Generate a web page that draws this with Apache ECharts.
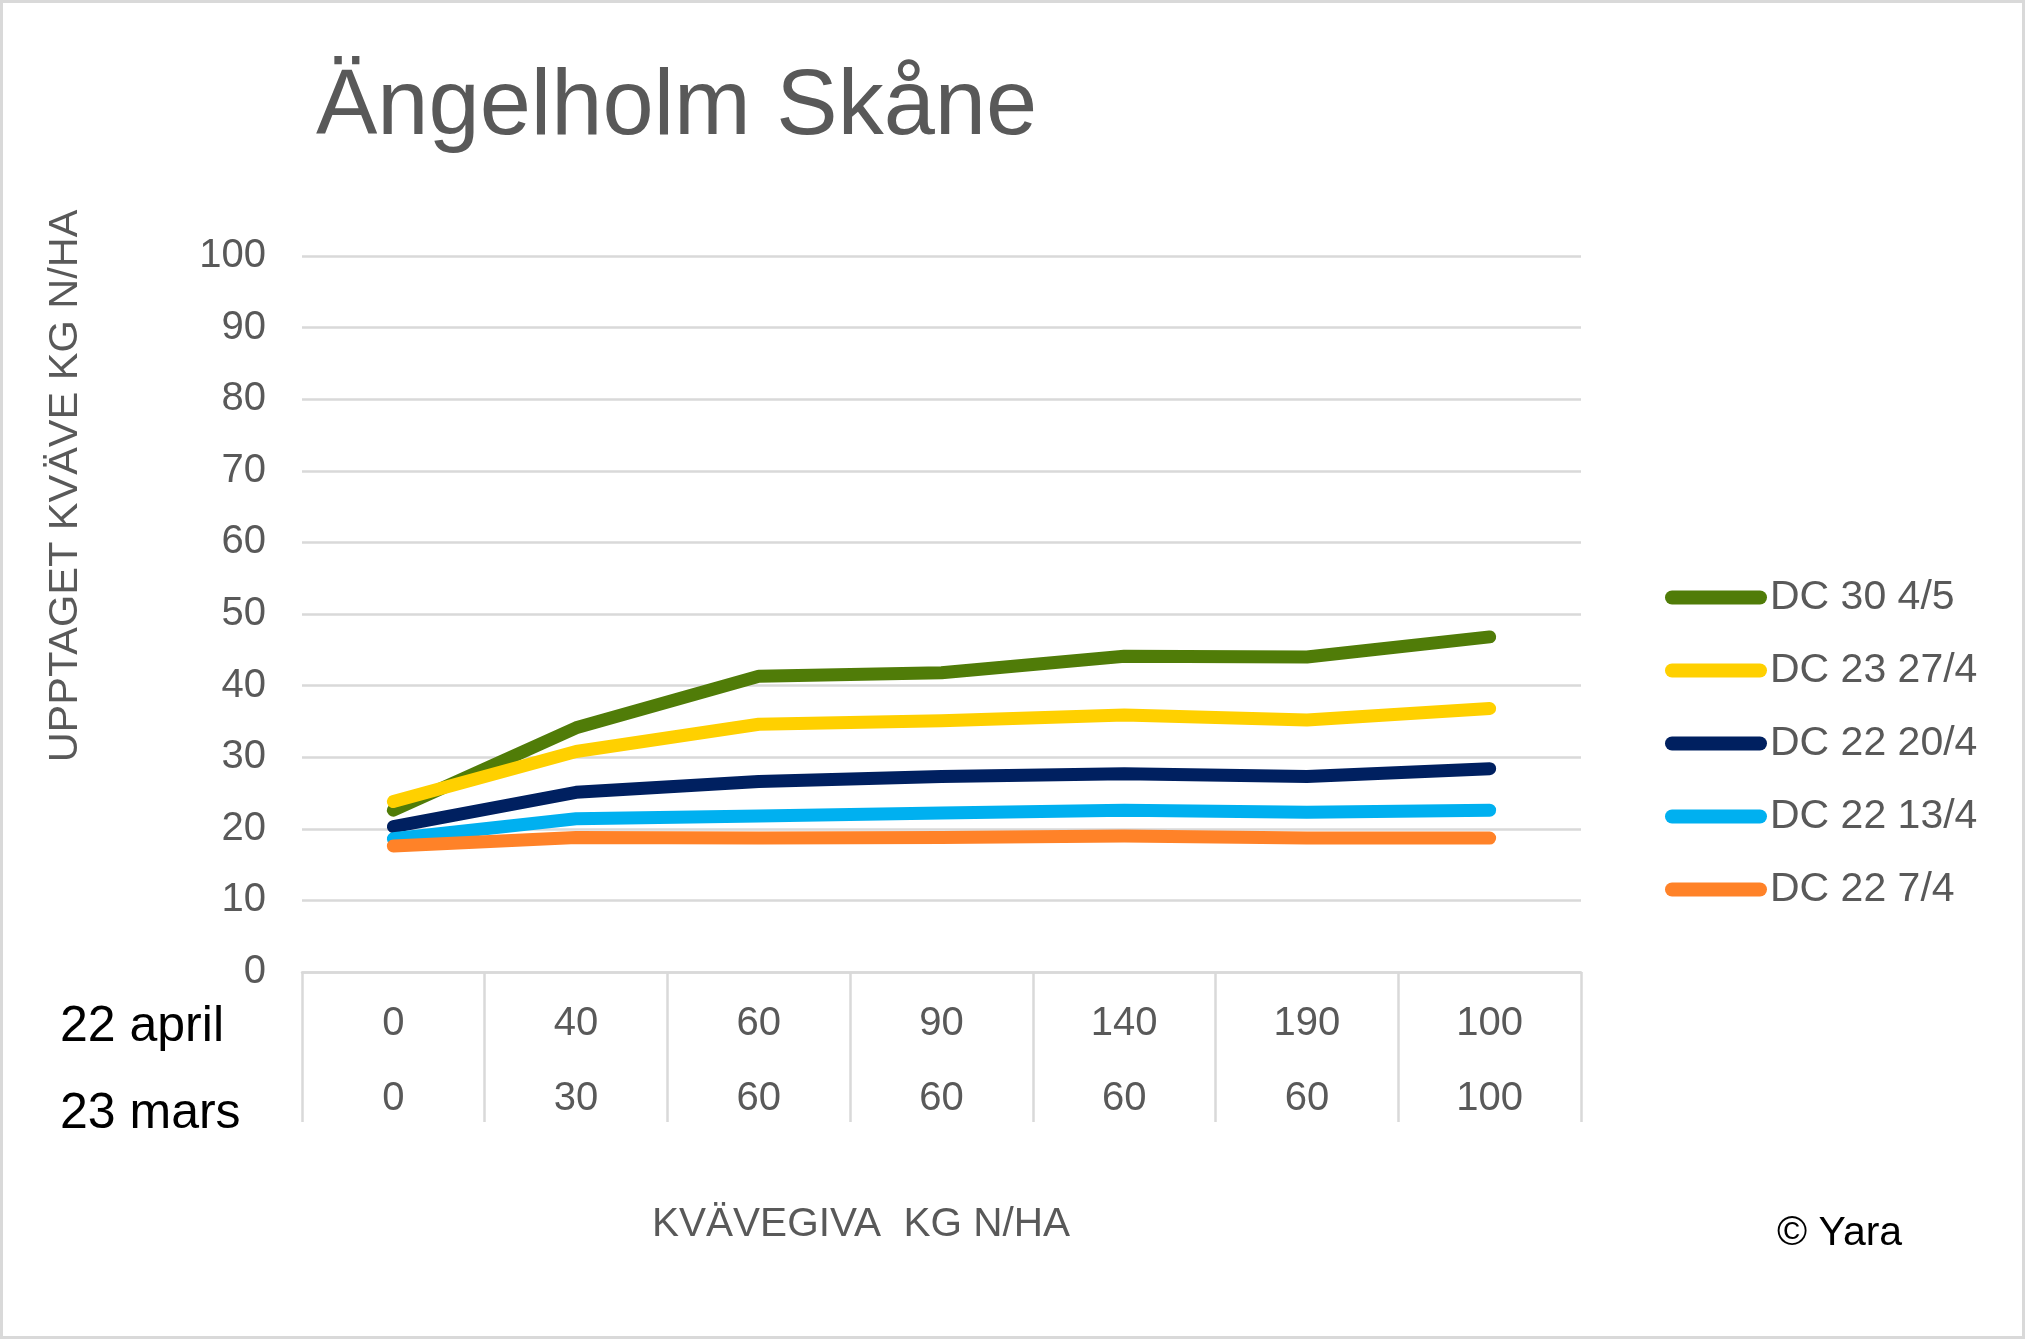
<!DOCTYPE html>
<html>
<head>
<meta charset="utf-8">
<script src="https://cdn.jsdelivr.net/npm/echarts@6/dist/echarts.min.js"></script>
<style>
html,body{margin:0;padding:0;background:#fff;}
#chart{width:2026px;height:1340px;}
</style>
</head>
<body>
<div id="chart"></div>
<script>
// Category rows (x axis): N given 22 april, N given 23 mars
const april = ['0', '40', '60', '90', '140', '190', '100'];
const mars = ['0', '30', '60', '60', '60', '60', '100'];
const rowLabels = ['22 april', '23 mars'];

// Series (uptaken N, kg N/ha)
const seriesNames = ['DC 30 4/5', 'DC 23 27/4', 'DC 22 20/4', 'DC 22 13/4', 'DC 22 7/4'];
const dc30_4_5 = [22.6, 34.1, 41.3, 41.8, 44.1, 44.0, 46.8];
const dc23_27_4 = [23.8, 30.8, 34.6, 35.1, 35.9, 35.2, 36.8];
const dc22_20_4 = [20.3, 25.1, 26.6, 27.3, 27.7, 27.3, 28.4];
const dc22_13_4 = [18.6, 21.4, 21.8, 22.2, 22.6, 22.3, 22.6];
const dc22_7_4 = [17.6, 18.8, 18.7, 18.8, 19.0, 18.7, 18.7];
const seriesColors = ['#507C08', '#FFD000', '#002060', '#00B0F0', '#FF8228'];

const yTicks = { min: 0, max: 100, interval: 10 };

const FONT = '"Liberation Sans", Arial, sans-serif';
const GREY = '#595959';

const categories = april.map((a, i) => a + '\n' + mars[i]);
const values = [dc30_4_5, dc23_27_4, dc22_20_4, dc22_13_4, dc22_7_4];

const chart = echarts.init(document.getElementById('chart'), null, { renderer: 'canvas' });

const option = {
  backgroundColor: '#ffffff',
  animation: false,
  title: {
    text: 'Ängelholm Skåne',
    left: 316,
    top: 63,
    padding: 0,
    textStyle: { fontFamily: FONT, fontSize: 92, fontWeight: 'normal', color: GREY }
  },
  legend: {
    orient: 'vertical',
    left: 1665,
    top: 577,
    itemWidth: 102,
    itemHeight: 14,
    itemGap: 32,
    padding: 0,
    icon: 'path://M7,0 L95,0 A7,7 0 0 1 95,14 L7,14 A7,7 0 0 1 7,0 Z',
    textStyle: { fontFamily: FONT, fontSize: 41, color: GREY, lineHeight: 40, padding: [0, 0, 0, -2] },
    data: seriesNames
  },
  grid: { left: 302, right: 445, top: 256, bottom: 368, containLabel: false },
  xAxis: {
    type: 'category',
    data: categories,
    boundaryGap: true,
    axisLine: { show: true, lineStyle: { color: '#d9d9d9', width: 2.5 } },
    axisTick: { show: true, interval: 0, length: 150, lineStyle: { color: '#d9d9d9', width: 2.5 } },
    axisLabel: {
      interval: 0,
      margin: 14,
      fontFamily: FONT,
      fontSize: 40,
      lineHeight: 75,
      color: GREY
    },
    splitLine: { show: false }
  },
  yAxis: {
    type: 'value',
    min: yTicks.min,
    max: yTicks.max,
    interval: yTicks.interval,
    axisLine: { show: false },
    axisTick: { show: false },
    axisLabel: { margin: 36, fontFamily: FONT, fontSize: 40, color: GREY },
    splitLine: { show: true, lineStyle: { color: '#d9d9d9', width: 2.5 } }
  },
  series: seriesNames.map((name, i) => ({
    name: name,
    type: 'line',
    data: values[i],
    symbol: 'none',
    color: seriesColors[i],
    lineStyle: { width: 13, color: seriesColors[i], cap: 'round', join: 'round' },
    z: 2 + i
  })),
  graphic: [
    {
      type: 'rect',
      shape: { x: 1.5, y: 1.5, width: 2022, height: 1336 },
      style: { fill: 'none', stroke: '#d9d9d9', lineWidth: 3 },
      silent: true
    },
    {
      type: 'text',
      x: 66, y: 486,
      rotation: Math.PI / 2,
      style: {
        text: 'UPPTAGET KVÄVE KG N/HA',
        font: '41.5px ' + FONT,
        fill: GREY,
        textAlign: 'center',
        textVerticalAlign: 'middle'
      }
    },
    {
      type: 'text',
      x: 60, y: 1027,
      style: { text: rowLabels[0], font: '50px ' + FONT, fill: '#000000', textAlign: 'left', textVerticalAlign: 'middle' }
    },
    {
      type: 'text',
      x: 60, y: 1114,
      style: { text: rowLabels[1], font: '50px ' + FONT, fill: '#000000', textAlign: 'left', textVerticalAlign: 'middle' }
    },
    {
      type: 'text',
      x: 861, y: 1225,
      style: { text: 'KVÄVEGIVA  KG N/HA', font: '40.5px ' + FONT, fill: GREY, textAlign: 'center', textVerticalAlign: 'middle' }
    },
    {
      type: 'text',
      x: 1777, y: 1234,
      style: { text: '© Yara', font: '41px ' + FONT, fill: '#000000', textAlign: 'left', textVerticalAlign: 'middle' }
    }
  ]
};

chart.setOption(option);
</script>
</body>
</html>
